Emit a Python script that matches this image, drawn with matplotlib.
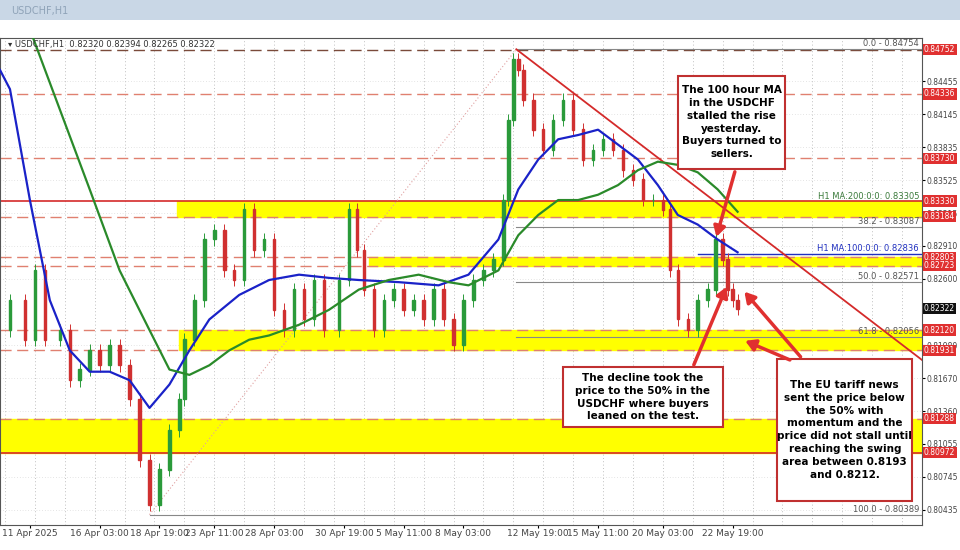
import numpy as np
import matplotlib
matplotlib.use("Agg")
import matplotlib.pyplot as plt
from matplotlib.patches import Rectangle

# price path (bar position, close)
bar_x = [0, 10, 25, 35, 45, 60, 70, 80, 90, 100, 110, 120, 130, 140, 150, 160, 170, 180, 185, 195,
         205, 215, 225, 235, 245, 255, 265, 275, 285, 295, 305, 315, 325, 340, 350, 358, 365, 375, 385,
         395, 405, 415, 425, 435, 445, 455, 465, 475, 485, 495, 505, 510, 515, 520, 525, 535, 545, 555,
         565, 575, 585, 595, 605, 615, 625, 635, 645, 655, 665, 672, 680, 690, 700, 710, 718, 725, 730,
         735, 740]
close = [0.8212, 0.8240, 0.8203, 0.8268, 0.8203, 0.8212, 0.8165, 0.8175, 0.8193, 0.8179, 0.8198,
         0.8179, 0.8147, 0.8090, 0.8048, 0.8081, 0.8118, 0.8147, 0.8203, 0.8240, 0.8297, 0.8306,
         0.8268, 0.8259, 0.8325, 0.8287, 0.8297, 0.8231, 0.8212, 0.8250, 0.8222, 0.8259, 0.8212,
         0.8259, 0.8325, 0.8287, 0.8250, 0.8212, 0.8240, 0.8250, 0.8231, 0.8240, 0.8222, 0.8250,
         0.8222, 0.8198, 0.8240, 0.8259, 0.8268, 0.8278, 0.8334, 0.8409, 0.8466, 0.8456, 0.8428,
         0.8400, 0.8381, 0.8409, 0.8428, 0.8400, 0.8372, 0.8381, 0.8391, 0.8381, 0.8362, 0.8353,
         0.8334, 0.8334, 0.8325, 0.8268, 0.8222, 0.8212, 0.8240, 0.8250, 0.8297, 0.8278, 0.8250,
         0.8240, 0.8232]

ma_x = [0, 10, 30, 50, 70, 90, 110, 130, 150, 170, 190, 210, 240, 270, 300, 330, 360, 400, 440, 470,
        500, 520, 540, 560, 580, 600, 620, 640, 660, 680, 700, 720, 740]
ma100 = [0.8456, 0.8438, 0.8334, 0.8240, 0.8193, 0.8173, 0.8173, 0.8165, 0.8139, 0.8161, 0.8193,
         0.8222, 0.8245, 0.8259, 0.8264, 0.8261, 0.8259, 0.8257, 0.8254, 0.8264, 0.8297, 0.8344,
         0.8372, 0.8391, 0.8395, 0.8400, 0.8386, 0.8372, 0.8348, 0.8320, 0.8311, 0.8297, 0.8285]
ma200_x = [30, 60, 90, 120, 150, 170, 190, 210, 230, 250, 270, 300, 330, 360, 390, 420, 450, 470,
           500, 520, 540, 560, 580, 600, 620, 640, 660, 680, 700, 720, 740]
ma200 = [0.8494, 0.8419, 0.8344, 0.8268, 0.8212, 0.8175, 0.8170, 0.8179, 0.8193, 0.8203, 0.8207,
         0.8217, 0.8231, 0.8250, 0.8259, 0.8264, 0.8257, 0.8254, 0.8268, 0.8301, 0.8320, 0.8334,
         0.8334, 0.8339, 0.8348, 0.8362, 0.8370, 0.8367, 0.8360, 0.8344, 0.8323]

sr_levels = [0.84752, 0.84336, 0.83730, 0.83330, 0.83184, 0.82803, 0.82723, 0.82120, 0.81931,
             0.81288, 0.80972]
fib_levels = [0.84754, 0.83087, 0.82571, 0.82056, 0.80389]
fib_names = ["0.0", "38.2", "50.0", "61.8", "100.0"]
zones = [(0.83184, 0.83330, 178), (0.82723, 0.82803, 370), (0.81931, 0.82120, 180), (0.80972, 0.81288, 0)]
yticks = [0.84455, 0.84145, 0.83835, 0.83525, 0.83215, 0.82910, 0.82600, 0.81980, 0.81670,
          0.81360, 0.81055, 0.80745, 0.80435]
date_pos = [30, 100, 160, 215, 275, 345, 405, 465, 540, 600, 665, 735]
date_labels = ["11 Apr 2025", "16 Apr 03:00", "18 Apr 19:00", "23 Apr 11:00", "28 Apr 03:00",
               "30 Apr 19:00", "5 May 11:00", "8 May 03:00", "12 May 19:00", "15 May 11:00",
               "20 May 03:00", "22 May 19:00"]

RED = "#d42a2a"
fig = plt.figure(figsize=(9.6, 5.5), dpi=100)
ax = fig.add_axes([0.0, 25 / 550, 922 / 960, (525 - 38) / 550])
X1 = 925
ax.set_xlim(0, X1)
ax.set_ylim(0.80292, 0.8486)

for xx in np.arange(5, X1, 30):
    ax.axvline(xx, color="#aaaaaa", ls=(0, (1, 3)), lw=0.6, zorder=0)

for lo, hi, x0 in zones:
    ax.add_patch(Rectangle((x0, lo), X1 - x0, hi - lo, color="#ffff00", zorder=1))
for lv in sr_levels:
    if lv in (0.83330, 0.80972):
        ax.axhline(lv, color=RED, lw=1.2, zorder=2)
    elif lv == 0.84752:
        ax.axhline(lv, color="#7a4a3a", lw=1, ls=(0, (8, 4)), zorder=2)
    else:
        ax.axhline(lv, color="#e08070", lw=1, ls=(0, (8, 4)), zorder=2)
for lv, nm in zip(fib_levels, fib_names):
    ax.plot([518 if nm != "100.0" else 150, X1], [lv, lv], color="#888888", lw=0.8, zorder=2)
    ax.text(X1 - 3, lv + 0.0001, f"{nm} - {lv:.5f}", fontsize=6, color="#555555", ha="right", va="bottom")
ax.text(X1 - 3, 0.83330 + 0.00005, "H1 MA:200:0:0: 0.83305", fontsize=6, color="#3a7a3a", ha="right", va="bottom")
ax.plot([700, X1], [0.82836, 0.82836], color="#2030c0", lw=1, zorder=2)
ax.text(X1 - 3, 0.82836 + 0.00005, "H1 MA:100:0:0: 0.82836", fontsize=6, color="#2030c0", ha="right", va="bottom")

# fib diagonal and trend line
ax.plot([150, 518], [0.80389, 0.84754], color="#e0a0a0", ls=(0, (1, 2)), lw=0.8, zorder=2)
ax.plot([518, X1], [0.84754, 0.8184], color=RED, lw=1.3, zorder=4)

# candles
for i in range(1, len(bar_x)):
    o, c = close[i - 1], close[i]
    col = "#2a9a3a" if c >= o else "#d03030"
    xm = bar_x[i]
    w = 2.5
    ax.vlines(xm, min(o, c) - 0.0006, max(o, c) + 0.0006, color=col, lw=0.7, zorder=3)
    ax.add_patch(Rectangle((xm - w / 2, min(o, c)), w, abs(c - o) + 0.00003, color=col, zorder=3))

ax.plot(ma_x, ma100, color="#1a22c8", lw=1.6, zorder=5)
ax.plot(ma200_x, ma200, color="#2a8a2a", lw=1.6, zorder=5)

ax.yaxis.tick_right()
ax.set_yticks(yticks)
ax.set_yticklabels([f"{v:.5f}" for v in yticks], fontsize=5.5, color="#444444")
ax.set_xticks(date_pos)
ax.set_xticklabels(date_labels, fontsize=6.5, color="#444444")
ax.tick_params(length=2, pad=1)
for v in yticks:
    ax.axhline(v, color="#cccccc", ls=(0, (1, 3)), lw=0.5, zorder=0)

for lv in sr_levels:
    ax.text(X1 + 2, lv, f"{lv:.5f}", fontsize=5.5, color="white", va="center", ha="left",
            bbox=dict(boxstyle="square,pad=0.15", fc="#e03030", ec="none"), clip_on=False)
ax.text(X1 + 2, 0.82322, "0.82322", fontsize=5.5, color="white", va="center", ha="left",
        bbox=dict(boxstyle="square,pad=0.15", fc="#111111", ec="none"), clip_on=False)

# annotations
def box(x, y, w, h, txt):
    ax.add_patch(Rectangle((x, y), w, h, fc="white", ec="#c03030", lw=1.5, zorder=8))
    ax.text(x + w / 2, y + h / 2, txt, ha="center", va="center", fontsize=7.5, fontweight="bold",
            linespacing=1.35, zorder=9)

box(680, 0.83635, 108, 0.00870, "The 100 hour MA\nin the USDCHF\nstalled the rise\nyesterday.\nBuyers turned to\nsellers.")
box(565, 0.81210, 160, 0.00560, "The decline took the\nprice to the 50% in the\nUSDCHF where buyers\nleaned on the test.")
box(780, 0.80520, 135, 0.01330, "The EU tariff news\nsent the price below\nthe 50% with\nmomentum and the\nprice did not stall until\nreaching the swing\narea between 0.8193\nand 0.8212.")

arr = dict(arrowstyle="-|>,head_length=0.6,head_width=0.35", color="#e03030", lw=2.5)
ax.annotate("", xy=(718, 0.8297), xytext=(738, 0.8363), arrowprops=arr, zorder=9)
ax.annotate("", xy=(730, 0.8255), xytext=(695, 0.8177), arrowprops=arr, zorder=9)
ax.annotate("", xy=(745, 0.8250), xytext=(805, 0.8185), arrowprops=arr, zorder=9)
ax.annotate("", xy=(745, 0.8203), xytext=(795, 0.8183), arrowprops=arr, zorder=9)

ax.text(8, 0.8478, "▾ USDCHF,H1  0.82320 0.82394 0.82265 0.82322", fontsize=6, color="#333333", zorder=9)
for s in ax.spines.values():
    s.set_color("#555555")

# window title bar
fig.patches.append(Rectangle((0, 1 - 20 / 550), 1, 20 / 550, transform=fig.transFigure,
                             fc="#c9d7e6", ec="none"))
fig.text(0.012, 1 - 11 / 550, "USDCHF,H1", fontsize=7, color="#8fa3b8", va="center")
fig.savefig("out.png")
